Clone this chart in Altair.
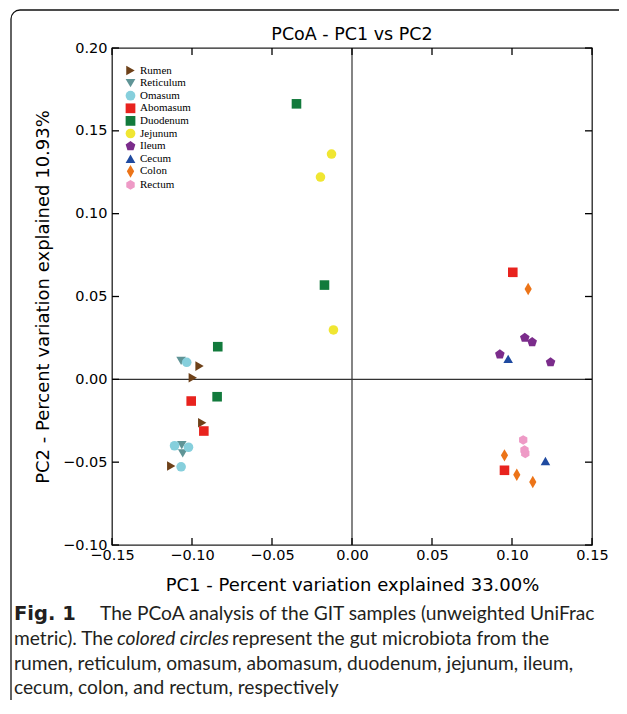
import altair as alt
import pandas as pd

groups = ["Rumen", "Reticulum", "Omasum", "Abomasum", "Duodenum",
          "Jejunum", "Ileum", "Cecum", "Colon", "Rectum"]
colors = ["#6e4119", "#5f9496", "#86cfdc", "#e8231e", "#127a3c",
          "#f0e632", "#7b2c8b", "#1f4aa0", "#ec7418", "#ee9ac6"]
pentagon = "M0,-1.05L1.0,-0.32L0.62,0.85L-0.62,0.85L-1.0,-0.32Z"
hexagon = "M0,-1L0.866,-0.5L0.866,0.5L0,1L-0.866,0.5L-0.866,-0.5Z"
thin_diamond = "M0,-1.3L0.75,0L0,1.3L-0.75,0Z"
shapes = ["triangle-right", "triangle-down", "circle", "square", "square",
          "circle", pentagon, "triangle-up", thin_diamond, hexagon]

rumen_pc1 = [-0.0953, -0.0995, -0.0936, -0.1130]
rumen_pc2 = [0.0080, 0.0010, -0.0262, -0.0523]
reticulum_pc1 = [-0.1068, -0.1064, -0.1058]
reticulum_pc2 = [0.0112, -0.0397, -0.0447]
omasum_pc1 = [-0.1033, -0.1109, -0.1022, -0.1068]
omasum_pc2 = [0.0103, -0.0401, -0.0410, -0.0528]
abomasum_pc1 = [-0.1005, -0.0926, 0.1005, 0.0953]
abomasum_pc2 = [-0.0131, -0.0312, 0.0646, -0.0549]
duodenum_pc1 = [-0.0347, -0.0172, -0.0839, -0.0843]
duodenum_pc2 = [0.1663, 0.0569, 0.0197, -0.0105]
jejunum_pc1 = [-0.0128, -0.0197, -0.0116]
jejunum_pc2 = [0.1360, 0.1221, 0.0298]
ileum_pc1 = [0.1080, 0.1126, 0.0924, 0.1241]
ileum_pc2 = [0.0251, 0.0225, 0.0151, 0.0103]
cecum_pc1 = [0.0976, 0.1209]
cecum_pc2 = [0.0124, -0.0493]
colon_pc1 = [0.1101, 0.0953, 0.1030, 0.1130]
colon_pc2 = [0.0545, -0.0459, -0.0576, -0.0620]
rectum_pc1 = [0.1070, 0.1078, 0.1083]
rectum_pc2 = [-0.0366, -0.0427, -0.0447]

x_ticks = [-0.15, -0.10, -0.05, 0.00, 0.05, 0.10, 0.15]
y_ticks = [-0.10, -0.05, 0.00, 0.05, 0.10, 0.15, 0.20]

title_text = "PCoA - PC1 vs PC2"
x_title = "PC1 - Percent variation explained 33.00%"
y_title = "PC2 - Percent variation explained 10.93%"

caption_bold = "Fig. 1"
caption_l1 = "The PCoA analysis of the GIT samples (unweighted UniFrac"
caption_l2a = "metric). The"
caption_l2_italic = "colored circles"
caption_l2b = "represent the gut microbiota from the"
caption_l3 = "rumen, reticulum, omasum, abomasum, duodenum, jejunum, ileum,"
caption_l4 = "cecum, colon, and rectum, respectively"

pc1_lists = [rumen_pc1, reticulum_pc1, omasum_pc1, abomasum_pc1, duodenum_pc1,
             jejunum_pc1, ileum_pc1, cecum_pc1, colon_pc1, rectum_pc1]
pc2_lists = [rumen_pc2, reticulum_pc2, omasum_pc2, abomasum_pc2, duodenum_pc2,
             jejunum_pc2, ileum_pc2, cecum_pc2, colon_pc2, rectum_pc2]

rows = []
for g, xs, ys in zip(groups, pc1_lists, pc2_lists):
    for a, b in zip(xs, ys):
        rows.append({"group": g, "pc1": a, "pc2": b})
df = pd.DataFrame(rows)

W, H = 480, 497
FONT = "DejaVu Sans"
xscale = alt.Scale(domain=[-0.15, 0.15], nice=False, zero=False)
yscale = alt.Scale(domain=[-0.10, 0.20], nice=False, zero=False)

x_axis = alt.Axis(values=x_ticks, format=".2f", title=x_title,
                  ticks=False, domain=False, grid=False, zindex=2,
                  labelFont=FONT, labelFontSize=14.5, labelColor="black",
                  labelPadding=3, labelFlush=False, labelOverlap=False,
                  titleFont=FONT, titleFontSize=18, titleFontWeight="normal",
                  titleColor="black", titleX=240, titleY=40,
                  titleBaseline="middle", titleAlign="center")
y_axis = alt.Axis(values=y_ticks, format=".2f", title=y_title,
                  ticks=False, domain=False, grid=False, zindex=2,
                  labelFont=FONT, labelFontSize=14.5, labelColor="black",
                  labelPadding=5, labelFlush=False, labelOverlap=False,
                  titleFont=FONT, titleFontSize=18, titleFontWeight="normal",
                  titleColor="black", titleX=-69, titleY=H / 2,
                  titleAngle=270, titleBaseline="middle", titleAlign="center")


def X(field="pc1"):
    return alt.X(f"{field}:Q", scale=xscale, axis=x_axis)


def Y(field="pc2"):
    return alt.Y(f"{field}:Q", scale=yscale, axis=y_axis)


one = pd.DataFrame({"k": [0]})

border = alt.Chart(one).mark_rect(filled=False, stroke="#111", strokeWidth=1.3,
                                  cornerRadius=9).encode(
    x=alt.value(-101), x2=alt.value(900), y=alt.value(-38), y2=alt.value(1000))

legend = alt.Legend(title=None, orient="none", legendX=13, legendY=17,
                    labelFont="Liberation Serif", labelFontSize=11,
                    labelColor="black", symbolSize=95, symbolStrokeWidth=0,
                    rowPadding=0.6, padding=0, labelOffset=4)

points = alt.Chart(df).mark_point(filled=True, size=92, opacity=1).encode(
    x=X(), y=Y(),
    color=alt.Color("group:N", scale=alt.Scale(domain=groups, range=colors),
                    legend=legend, sort=groups),
    shape=alt.Shape("group:N", scale=alt.Scale(domain=groups, range=shapes),
                    legend=legend, sort=groups),
)

zero_x = alt.Chart(pd.DataFrame({"pc1": [0.0]})).mark_rule(
    color="#333", strokeWidth=1.2).encode(x=X())
zero_y = alt.Chart(pd.DataFrame({"pc2": [0.0]})).mark_rule(
    color="#333", strokeWidth=1.2).encode(y=Y())

xt = pd.DataFrame({"pc1": x_ticks})
yt = pd.DataFrame({"pc2": y_ticks})
tick_bottom = alt.Chart(xt).mark_rule(color="black", strokeWidth=1.3).encode(
    x=X(), y=alt.value(H - 7), y2=alt.value(H))
tick_top = alt.Chart(xt).mark_rule(color="black", strokeWidth=1.3).encode(
    x=X(), y=alt.value(0), y2=alt.value(7))
tick_left = alt.Chart(yt).mark_rule(color="black", strokeWidth=1.3).encode(
    y=Y(), x=alt.value(0), x2=alt.value(7))
tick_right = alt.Chart(yt).mark_rule(color="black", strokeWidth=1.3).encode(
    y=Y(), x=alt.value(W - 7), x2=alt.value(W))

title = alt.Chart(one).mark_text(
    text=title_text, align="center", baseline="alphabetic", font=FONT,
    fontSize=17.5, color="black").encode(x=alt.value(W / 2), y=alt.value(-8))

CAP_FONT = "Lato"
CAP_SIZE = 19.2
CAP_COLOR = "#231f20"


def cap(text, x, y, weight="normal", style="normal", font=CAP_FONT, size=CAP_SIZE):
    return alt.Chart(one).mark_text(
        text=text, align="left", baseline="alphabetic", font=font,
        fontSize=size, fontWeight=weight, fontStyle=style, color=CAP_COLOR
    ).encode(x=alt.value(x), y=alt.value(y))


captions = [
    cap(caption_bold, -98, 572, weight="bold", font="DejaVu Sans", size=19.5),
    cap(caption_l1, -12, 572),
    cap(caption_l2a, -98, 597),
    cap(caption_l2_italic, 5, 597, style="italic"),
    cap(caption_l2b, 120, 597),
    cap(caption_l3, -98, 622),
    cap(caption_l4, -98, 646),
]

chart = alt.layer(border, zero_x, zero_y, tick_bottom, tick_top, tick_left,
                  tick_right, points, title, *captions).properties(
    width=W, height=H,
    padding={"left": 104, "top": 40, "right": 27, "bottom": 155},
    autosize=alt.AutoSizeParams(type="none"),
).configure_view(stroke="#222", strokeWidth=1.3)

chart.save("out.html", embed_options={"renderer": "svg", "actions": False})
